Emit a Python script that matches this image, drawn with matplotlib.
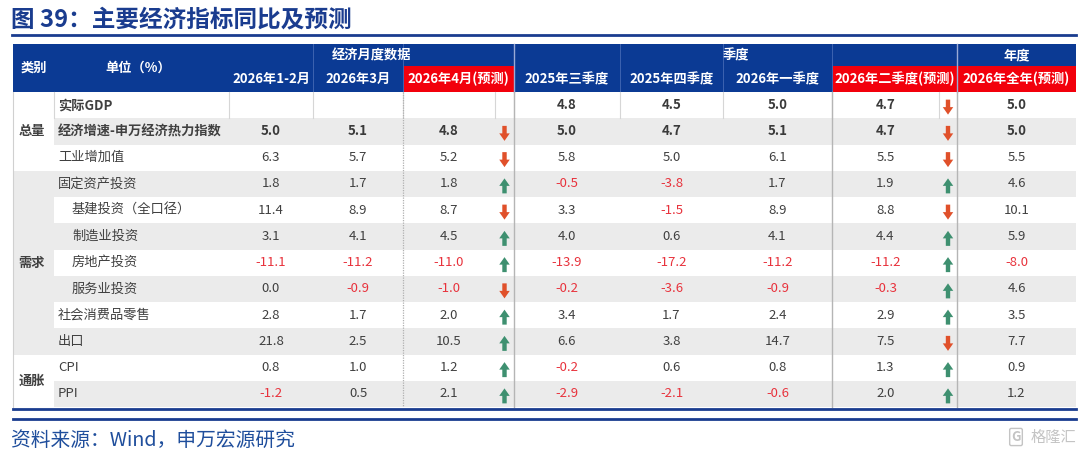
import numpy as np
import matplotlib.pyplot as plt
from matplotlib.patches import Rectangle, FancyArrow

plt.rcParams['font.family'] = ['Noto Sans CJK SC', 'DejaVu Sans']

# ===============================
# Datos de la tabla
# ===============================

title = "图 39：主要经济指标同比及预测"
source = "资料来源：Wind，申万宏源研究"

groups = ["总量", "需求", "通胀"]
group_rows = [(0, 3), (3, 10), (10, 12)]

indicators = ["实际GDP", "经济增速-申万经济热力指数", "工业增加值", "固定资产投资",
              "基建投资（全口径）", "制造业投资", "房地产投资", "服务业投资",
              "社会消费品零售", "出口", "CPI", "PPI"]
indented = [0, 0, 0, 0, 1, 1, 1, 1, 0, 0, 0, 0]
bold_rows = [1, 1, 0, 0, 0, 0, 0, 0, 0, 0, 0, 0]

span_labels = ["经济月度数据", "季度", "年度"]
col_labels = ["2026年1-2月", "2026年3月", "2026年4月(预测)", "2025年三季度",
              "2025年四季度", "2026年一季度", "2026年二季度(预测)", "2026年全年(预测)"]
forecast_cols = [2, 6, 7]

values = [
    [None, None, None, 4.8, 4.5, 5.0, 4.7, 5.0],
    [5.0, 5.1, 4.8, 5.0, 4.7, 5.1, 4.7, 5.0],
    [6.3, 5.7, 5.2, 5.8, 5.0, 6.1, 5.5, 5.5],
    [1.8, 1.7, 1.8, -0.5, -3.8, 1.7, 1.9, 4.6],
    [11.4, 8.9, 8.7, 3.3, -1.5, 8.9, 8.8, 10.1],
    [3.1, 4.1, 4.5, 4.0, 0.6, 4.1, 4.4, 5.9],
    [-11.1, -11.2, -11.0, -13.9, -17.2, -11.2, -11.2, -8.0],
    [0.0, -0.9, -1.0, -0.2, -3.6, -0.9, -0.3, 4.6],
    [2.8, 1.7, 2.0, 3.4, 1.7, 2.4, 2.9, 3.5],
    [21.8, 2.5, 10.5, 6.6, 3.8, 14.7, 7.5, 7.7],
    [0.8, 1.0, 1.2, -0.2, 0.6, 0.8, 1.3, 0.9],
    [-1.2, 0.5, 2.1, -2.9, -2.1, -0.6, 2.0, 1.2],
]

# flechas: 'u' sube, 'd' baja, '' ninguna
month_arrow = ['', 'd', 'd', 'u', 'd', 'u', 'u', 'd', 'u', 'u', 'u', 'u']
quarter_arrow = ['d', 'd', 'd', 'u', 'd', 'u', 'u', 'u', 'u', 'd', 'u', 'u']

# ===============================
# Layout (pixeles)
# ===============================

W, H = 1080, 455
left, right = 13, 1076
cat_x = (13, 54)
name_x = (54, 229)
cols_x = [(229, 313), (313, 403), (403, 495), (514, 620), (620, 723),
          (723, 832), (832, 939), (957, 1076)]
month_arrow_x = (495, 514)
quarter_arrow_x = (939, 957)
head_top, head_mid, head_bot = 44, 66, 92
row_h = 26.25

NAVY = "#0B3A94"
RED_HEAD = "#F2000C"
TXT = "#404040"
NEG = "#E8323C"
STRIPE = "#EBEBEB"
UP = "#3E9070"
DOWN = "#E0502A"

fig = plt.figure(figsize=(W / 100, H / 100), dpi=100)
ax = fig.add_axes([0, 0, 1, 1])
ax.set_xlim(0, W)
ax.set_ylim(H, 0)
ax.axis("off")

# titulo
ax.text(11, 19, title, fontsize=17, fontweight="bold", color="#1A3C8F", va="center")
ax.plot([12, right], [34.5, 34.5], color="#1A3C8F", lw=2)

# cabecera
ax.add_patch(Rectangle((left, head_top), right - left, head_bot - head_top, color=NAVY, lw=0))
for c in forecast_cols:
    x0, x1 = cols_x[c]
    if c == 2:
        x1 = month_arrow_x[1]
    if c == 6:
        x1 = quarter_arrow_x[1]
    ax.add_patch(Rectangle((x0, head_mid), x1 - x0, head_bot - head_mid, color=RED_HEAD, lw=0))

for xx in [313, 403, 620, 723, 832]:
    ax.plot([xx, xx], [head_top, head_bot], color="#3D63B0", lw=0.7)
for xx in [514, 957]:
    ax.plot([xx, xx], [head_top, head_bot], color="#9AAAD6", lw=1.0)

ax.text(sum(cat_x) / 2, (head_top + head_bot) / 2, "类别", color="white",
        fontsize=9.5, fontweight="bold", ha="center", va="center")
ax.text(138, (head_top + head_bot) / 2, "单位（%）", color="white",
        fontsize=9.5, fontweight="bold", ha="center", va="center")

span_ranges = [(229, 514), (514, 957), (957, 1076)]
for lab, (x0, x1) in zip(span_labels, span_ranges):
    ax.text((x0 + x1) / 2, (head_top + head_mid) / 2, lab, color="white",
            fontsize=9.5, fontweight="bold", ha="center", va="center")

for c, lab in enumerate(col_labels):
    x0, x1 = cols_x[c]
    if c == 2:
        x1 = month_arrow_x[1]
    if c == 6:
        x1 = quarter_arrow_x[1]
    ax.text((x0 + x1) / 2, (head_mid + head_bot) / 2, lab, color="white",
            fontsize=9.5, fontweight="bold", ha="center", va="center")

# cuerpo
n_rows = len(indicators)
for r in range(n_rows):
    y0 = head_bot + r * row_h
    if r % 2 == 1:
        ax.add_patch(Rectangle((name_x[0], y0), right - name_x[0], row_h, color=STRIPE, lw=0))

# columna de categoria
for g, (r0, r1) in zip(groups, group_rows):
    y0 = head_bot + r0 * row_h
    y1 = head_bot + r1 * row_h
    fc = STRIPE if g == "需求" else "white"
    ax.add_patch(Rectangle((cat_x[0], y0), cat_x[1] - cat_x[0], y1 - y0, color=fc, lw=0))
    ax.text(sum(cat_x) / 2 - 2, (y0 + y1) / 2, g, color=TXT, fontsize=9.5,
            fontweight="bold", ha="center", va="center")

# lineas de la fila GDP
gdp_lines = [54, 229, 313, 403, 495, 514, 620, 723, 832, 939, 957]
for xx in gdp_lines:
    ax.plot([xx, xx], [head_bot, head_bot + row_h], color="#D6D6D6", lw=0.8)

body_bot = head_bot + n_rows * row_h
ax.plot([403, 403], [head_bot, body_bot], color="#B0B0B0", lw=0.9, ls=(0, (1, 1)))
for xx in [514, 832, 957]:
    ax.plot([xx, xx], [head_bot, body_bot], color="#B5B5B5", lw=1.0)
ax.plot([left, left], [head_bot, body_bot], color="#D0D0D0", lw=0.8)


def draw_arrow(xc, yc, kind):
    if kind == "u":
        ax.add_patch(FancyArrow(xc, yc + 7.5, 0, -15, width=4.4, head_width=10.5,
                                head_length=7.5, length_includes_head=True,
                                color=UP, lw=0))
    elif kind == "d":
        ax.add_patch(FancyArrow(xc, yc - 7.5, 0, 15, width=4.4, head_width=10.5,
                                head_length=7.5, length_includes_head=True,
                                color=DOWN, lw=0))


for r in range(n_rows):
    yc = head_bot + (r + 0.5) * row_h
    fw = "bold" if bold_rows[r] else "normal"
    nx = name_x[0] + 4 + 14 * indented[r]
    ax.text(nx, yc, indicators[r], color=TXT, fontsize=9.5, fontweight=fw,
            ha="left", va="center")
    for c, v in enumerate(values[r]):
        if v is None:
            continue
        x0, x1 = cols_x[c]
        col = NEG if v < 0 else TXT
        if bold_rows[r]:
            col = "#3A3A3A"
        ax.text((x0 + x1) / 2, yc, f"{v:.1f}", color=col, fontsize=9.5,
                fontweight=fw, ha="center", va="center")
    draw_arrow(sum(month_arrow_x) / 2, yc + 2, month_arrow[r])
    draw_arrow(sum(quarter_arrow_x) / 2, yc + 2, quarter_arrow[r])

# lineas inferiores
ax.plot([left, right], [body_bot + 1.5, body_bot + 1.5], color="#1A3C8F", lw=2)
ax.plot([left, right], [body_bot + 12, body_bot + 12], color="#1A3C8F", lw=2)

ax.text(11, 440, source, fontsize=14.2, color="#1F4E9C", va="center")

# marca de agua
ax.text(1076, 437, "格隆汇", fontsize=11, color="#C4C4C4", ha="right", va="center")
ax.text(1016, 437, "G", fontsize=9.5, color="#C4C4C4", ha="center", va="center",
        fontweight="bold",
        bbox=dict(boxstyle="round,pad=0.12", fc="none", ec="#C4C4C4", lw=1))

fig.savefig("out.png", dpi=100)
